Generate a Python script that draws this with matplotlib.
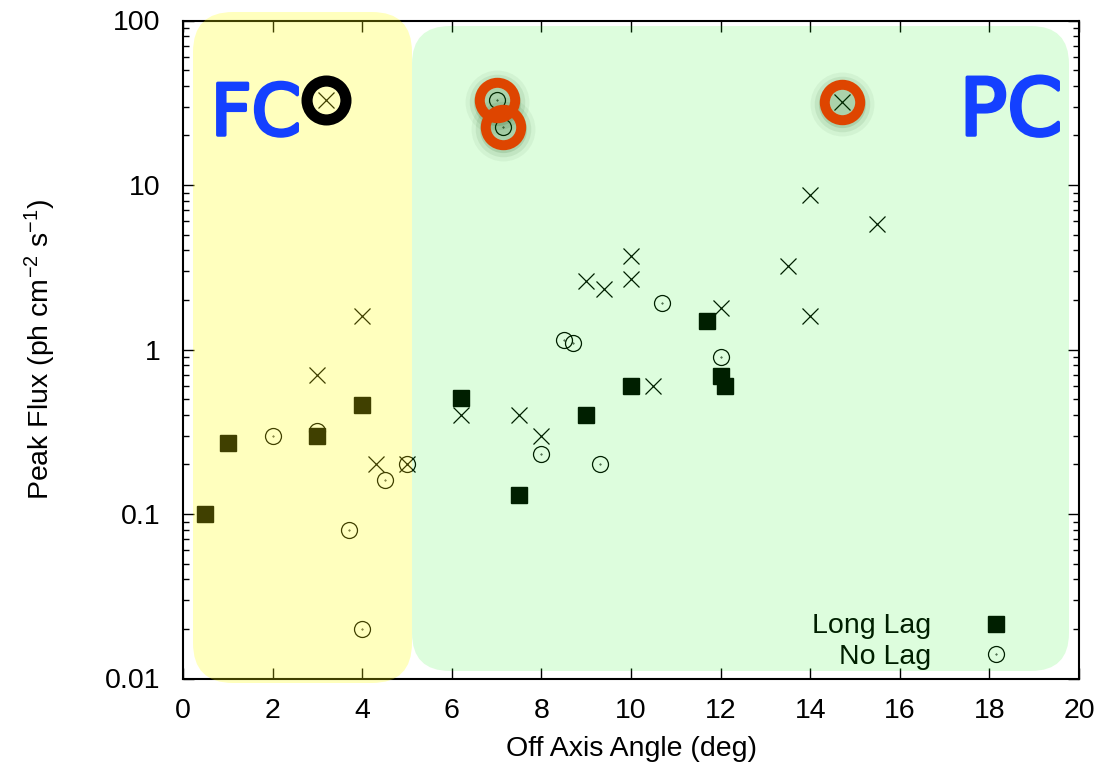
import numpy as np
import matplotlib
matplotlib.use("Agg")
import matplotlib.pyplot as plt
from matplotlib.patches import FancyBboxPatch
from matplotlib.lines import Line2D
from matplotlib.ticker import LogLocator, NullFormatter, FixedLocator
import matplotlib.patheffects as pe

plt.rcParams['font.family'] = ['Liberation Sans', 'DejaVu Sans']
plt.rcParams['mathtext.fontset'] = 'custom'
plt.rcParams['mathtext.rm'] = 'Liberation Sans'
plt.rcParams['mathtext.it'] = 'Liberation Sans:italic'
plt.rcParams['mathtext.default'] = 'regular'

# Long Lag (filled squares)
long_x = [0.5, 1.0, 3.0, 4.0, 6.2, 7.5, 9.0, 10.0, 11.7, 12.0, 12.1]
long_y = [0.10, 0.27, 0.30, 0.46, 0.51, 0.13, 0.40, 0.60, 1.5, 0.69, 0.60]

# No Lag (open circles)
nolag_x = [2.0, 3.0, 3.7, 4.0, 4.5, 5.0, 7.0, 7.15, 8.0, 8.5, 8.7, 9.3, 10.7, 12.0]
nolag_y = [0.30, 0.32, 0.08, 0.02, 0.16, 0.20, 33, 22.5, 0.23, 1.15, 1.1, 0.20, 1.93, 0.90]

# third set (crosses, not in legend)
cross_x = [3.0, 3.2, 4.0, 4.3, 5.0, 6.2, 7.5, 8.0, 9.0, 9.4, 10.0, 10.0, 10.5, 12.0, 13.5, 14.0, 14.0, 14.7, 15.5]
cross_y = [0.70, 33, 1.6, 0.20, 0.20, 0.40, 0.40, 0.30, 2.6, 2.33, 3.7, 2.7, 0.60, 1.8, 3.2, 8.7, 1.6, 32, 5.8]

# highlighted bursts
red_x = [7.0, 7.15, 14.7]
red_y = [33, 22.5, 32]
fc_x = [3.2]
fc_y = [33]

xticks = [0, 2, 4, 6, 8, 10, 12, 14, 16, 18, 20]
yticks = [0.01, 0.1, 1, 10, 100]
ytick_labels = ['0.01', '0.1', '1', '10', '100']

W, H = 1106, 775
fs = 20.5
fig = plt.figure(figsize=(W / 100, H / 100), dpi=100)
pos = [183 / W, 1 - 678.5 / H, (1079 - 183) / W, (678.5 - 20.5) / H]
ax = fig.add_axes(pos, zorder=0)

ax.plot(nolag_x, nolag_y, 'o', ms=11.5, mfc='none', mec='black', mew=0.9, ls='none')
ax.plot(nolag_x, nolag_y, '.', ms=0.8, color='black', ls='none')
ax.plot(cross_x, cross_y, 'x', ms=11.5, color='black', mew=0.9, ls='none')
ax.plot(long_x, long_y, 's', ms=11.3, color='black', ls='none')

ax.set_yscale('log')
ax.set_xlim(0, 20)
ax.set_ylim(0.01, 100)
ax.xaxis.set_major_locator(FixedLocator(xticks))
ax.set_xticklabels([str(t) for t in xticks])
ax.yaxis.set_major_locator(FixedLocator(yticks))
ax.set_yticklabels(ytick_labels)
ax.yaxis.set_minor_locator(LogLocator(base=10, subs=np.arange(2, 10)))
ax.yaxis.set_minor_formatter(NullFormatter())
ax.tick_params(which='both', direction='in', top=True, right=True, width=1.0, labelsize=fs)
ax.tick_params(axis='y', which='major', length=8, pad=16)
ax.tick_params(axis='y', which='minor', length=4)
ax.tick_params(axis='x', which='major', length=8, pad=14)
for s in ax.spines.values():
    s.set_linewidth(1.5)

ax.set_xlabel('Off Axis Angle (deg)', fontsize=fs, labelpad=9)
ax.set_ylabel('Peak Flux (ph cm$^{-2}$ s$^{-1}$)', fontsize=fs, labelpad=34)

# legend
h_sq = Line2D([], [], marker='s', ms=11.3, color='black', ls='none')
h_ci = Line2D([], [], marker='o', ms=11.5, mfc='none', mec='black', mew=0.9, ls='none')
h_dot = Line2D([], [], marker='.', ms=0.8, color='black', ls='none')
ax.legend([h_sq, (h_ci, h_dot)], ['Long Lag', 'No Lag'], loc='lower right',
          bbox_to_anchor=(0.946, -0.017), markerfirst=False, frameon=False,
          fontsize=fs, handlelength=1.0, handletextpad=1.8, labelspacing=0.15,
          borderpad=0.2)

# translucent rounded regions (drawn over the axes), pixel -> inches
def region(x0, y0, x1, y1, r, color, alpha):
    p = FancyBboxPatch((x0 / 100, (H - y1) / 100), (x1 - x0) / 100, (y1 - y0) / 100,
                       boxstyle=f"round,pad=0,rounding_size={r / 100}",
                       transform=fig.dpi_scale_trans, facecolor=color, alpha=alpha,
                       edgecolor='none', zorder=2)
    fig.add_artist(p)

region(412, 26, 1069, 671, 38, (0.0, 0.94, 0.0), 0.133)
region(193, 12, 412, 683, 40, (1.0, 1.0, 0.0), 0.255)

# rings on top
ax2 = fig.add_axes(pos, sharex=ax, sharey=ax, zorder=3)
ax2.set_axis_off()
ax2.patch.set_visible(False)
for s, a in [(46, 0.05), (40, 0.08), (34, 0.12)]:
    ax2.plot(red_x, [v * 0.97 for v in red_y], 'o', ms=s, color='#0a4a0a', alpha=a,
             mew=0, ls='none', clip_on=False)
for xx, yy in zip(red_x, red_y):
    ax2.plot([xx], [yy], 'o', ms=25.5, mfc='none', mec='#de4500', mew=7.2, ls='none',
             clip_on=False)
ax2.plot(fc_x, fc_y, 'o', ms=28, mfc='none', mec='black', mew=8, ls='none', clip_on=False)

blue = '#1440ff'
stroke = [pe.withStroke(linewidth=2.5, foreground=blue, capstyle='round', joinstyle='round')]
fig.text(256 / W, 1 - 135 / H, 'FC', fontsize=51, color=blue, ha='center', va='baseline',
         family='DejaVu Sans', path_effects=stroke, zorder=4)
fig.text(1011 / W, 1 - 135 / H, 'PC', fontsize=57, color=blue, ha='center', va='baseline',
         family='DejaVu Sans', path_effects=stroke, zorder=4)

fig.savefig('out.png', dpi=100)
